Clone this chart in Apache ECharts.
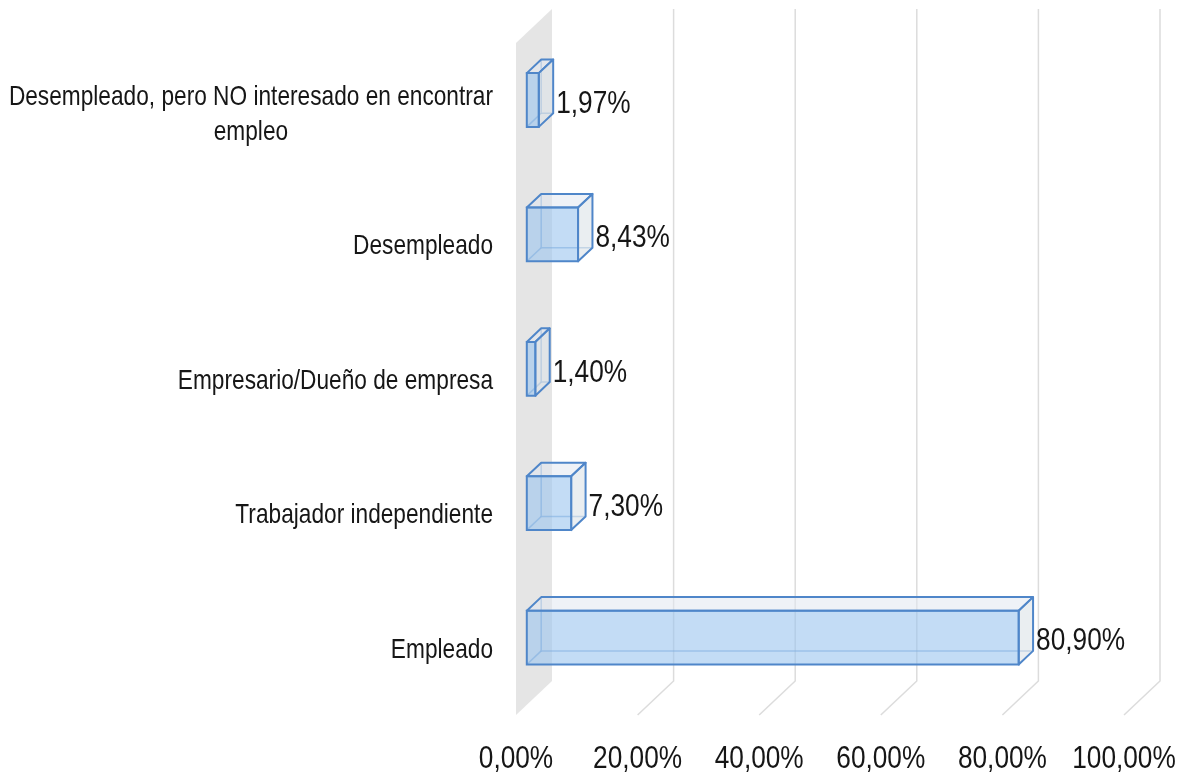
<!DOCTYPE html>
<html>
<head>
<meta charset="utf-8">
<script src="https://cdn.jsdelivr.net/npm/echarts@6/dist/echarts.min.js"></script>
<style>
html,body{margin:0;padding:0;background:#fff;}
#chart{width:1182px;height:776px;}
</style>
</head>
<body>
<div id="chart"></div>
<script>
const categories = [
  'Empleado',
  'Trabajador independiente',
  'Empresario/Dueño de empresa',
  'Desempleado',
  'Desempleado, pero NO interesado en encontrar\nempleo'
];
const values = [80.90, 7.30, 1.40, 8.43, 1.97];
const tickValues = [0, 20, 40, 60, 80, 100];

const FONT = "'Liberation Sans', Arial, sans-serif";
const SX = 0.82;
const SX_CAT = 0.81;
const DEPTH_X = 36, DEPTH_Y = -34;
const D1 = 0.3, D2 = 0.7;
const EDGE = '#4f86c9';
const TXT = '#161616';

function pct(v) { return v.toFixed(2).replace('.', ',') + '%'; }

const chart = echarts.init(document.getElementById('chart'), null, {renderer: 'canvas'});

const option = {
  animation: false,
  backgroundColor: '#ffffff',
  grid: {left: 516, right: 58, top: 43, bottom: 61, containLabel: false, outerBoundsMode: 'none'},
  xAxis: {
    type: 'value', min: 0, max: 100, interval: 20,
    axisLine: {show: false}, axisTick: {show: false}, splitLine: {show: false},
    axisLabel: {show: false}
  },
  yAxis: {
    type: 'category', data: categories,
    axisLine: {show: false}, axisTick: {show: false}, splitLine: {show: false},
    axisLabel: {show: false}
  },
  series: [
    {
      // walls, gridlines and tick labels
      type: 'custom',
      silent: true,
      z: 1,
      data: tickValues.map(function (v) { return [v, 0]; }),
      encode: {x: 0, y: 1},
      renderItem: function (params, api) {
        const cs = params.coordSys;
        const v = api.value(0);
        const x = api.coord([v, 0])[0];
        const top = cs.y, bot = cs.y + cs.height;
        const label = {
          type: 'text', x: x, y: bot + 44, scaleX: SX,
          style: {text: pct(v), fontFamily: FONT, fontSize: 32, fill: TXT, align: 'center', verticalAlign: 'middle'}
        };
        if (v === 0) {
          return {type: 'group', children: [{
            type: 'polygon',
            shape: {points: [[x, top], [x + DEPTH_X, top + DEPTH_Y], [x + DEPTH_X, bot + DEPTH_Y], [x, bot]]},
            style: {fill: '#e5e5e5', stroke: null}
          }, label]};
        }
        return {type: 'group', children: [{
          type: 'polyline',
          shape: {points: [[x, bot], [x + DEPTH_X, bot + DEPTH_Y], [x + DEPTH_X, top + DEPTH_Y]]},
          style: {fill: null, stroke: '#dcdcdc', lineWidth: 1.5}
        }, label]};
      }
    },
    {
      // category labels
      type: 'custom',
      silent: true,
      z: 3,
      data: categories.map(function (c, i) { return [0, i]; }),
      encode: {x: 0, y: 1},
      renderItem: function (params, api) {
        const i = api.value(1);
        const p = api.coord([0, i]);
        const lines = categories[i].split('\n');
        const txt = lines.map(function (l) { return '{c|' + l + '}'; }).join('\n');
        return {
          type: 'text', x: p[0] - 23, y: p[1] + (lines.length > 1 ? 5 : 2), scaleX: SX_CAT,
          style: {
            text: txt, align: 'right', verticalAlign: 'middle',
            rich: {c: {fontFamily: FONT, fontSize: 28, fill: TXT, align: 'center', lineHeight: 35}}
          }
        };
      }
    },
    {
      type: 'custom',
      z: 2,
      data: values.map(function (v, i) { return [v, i]; }),
      encode: {x: 0, y: 1},
      renderItem: function (params, api) {
        const v = api.value(0), i = api.value(1);
        const p0 = api.coord([0, i]);
        const p1 = api.coord([v, i]);
        const band = api.size([0, 1])[1];
        const h = band / 2.5;
        const fx = D1 * DEPTH_X, fy = D1 * DEPTH_Y;
        const bx = (D2 - D1) * DEPTH_X, by = (D2 - D1) * DEPTH_Y;
        const x0 = p0[0] + fx, x1 = p1[0] + fx;
        const yT = p0[1] - h / 2 + fy, yB = p0[1] + h / 2 + fy;
        return {
          type: 'group',
          children: [
            {
              type: 'polyline',
              shape: {points: [[x0 + bx, yT + by], [x0 + bx, yB + by], [x1 + bx, yB + by]]},
              style: {fill: null, stroke: 'rgba(79,134,201,0.55)', lineWidth: 1.5}
            },
            {
              type: 'line',
              shape: {x1: x0, y1: yB, x2: x0 + bx, y2: yB + by},
              style: {stroke: 'rgba(79,134,201,0.55)', lineWidth: 1.5}
            },
            {
              type: 'polygon',
              shape: {points: [[x0, yT], [x1, yT], [x1 + bx, yT + by], [x0 + bx, yT + by]]},
              style: {fill: 'rgba(225,232,240,0.55)', stroke: EDGE, lineWidth: 2, lineJoin: 'round'}
            },
            {
              type: 'polygon',
              shape: {points: [[x1, yT], [x1 + bx, yT + by], [x1 + bx, yB + by], [x1, yB]]},
              style: {fill: 'rgba(220,226,232,0.6)', stroke: EDGE, lineWidth: 2, lineJoin: 'round'}
            },
            {
              type: 'rect',
              shape: {x: x0, y: yT, width: x1 - x0, height: yB - yT},
              style: {fill: 'rgba(155,197,238,0.6)', stroke: EDGE, lineWidth: 2}
            },
            {
              type: 'text',
              x: x1 + bx + 3,
              y: (yT + yB) / 2 + 4,
              scaleX: SX,
              style: {
                text: pct(v), fontFamily: FONT, fontSize: 32, fill: TXT,
                align: 'left', verticalAlign: 'middle'
              }
            }
          ]
        };
      }
    }
  ]
};
chart.setOption(option);
</script>
</body>
</html>
